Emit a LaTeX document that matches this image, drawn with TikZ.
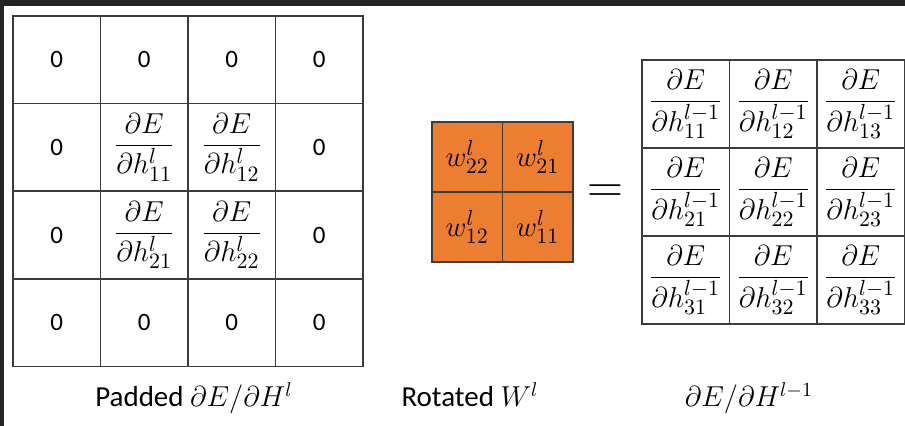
\documentclass[tikz,border=0pt]{standalone}
\usepackage{fontspec}
\setmainfont{Carlito}
\definecolor{gridline}{HTML}{3C3C3C}
\definecolor{wcolor}{HTML}{ED7D31}
\definecolor{framecol}{HTML}{242424}
\begin{document}
\begin{tikzpicture}[x=0.5pt,y=-0.5pt,
  cellbox/.style={draw=gridline,line width=0.8pt,minimum width=43.75pt,minimum height=43.8pt,inner sep=0pt,font=\fontsize{12.5}{14}\selectfont},
  fracbox/.style={cellbox,font=\fontsize{15}{17}\selectfont},
  wbox/.style={draw=gridline,line width=0.8pt,fill=wcolor,minimum width=35.25pt,minimum height=35pt,inner sep=0pt,font=\fontsize{15}{17}\selectfont},
  outbox/.style={draw=gridline,line width=0.8pt,minimum width=43.75pt,minimum height=44pt,inner sep=0pt,font=\fontsize{15}{17}\selectfont},
  caption/.style={anchor=base,inner sep=0pt,font=\fontsize{14.5}{16}\selectfont}]
\useasboundingbox (0,0) rectangle (905,426);
\fill[white] (0,0) rectangle (905,426);
\fill[framecol] (0,0) rectangle (905,6);
\fill[framecol] (0,0) rectangle (3.5,426);
% padded grid
\foreach \c in {0,...,3}{
  \node[cellbox] (p0\c) at ({13+87.5*(\c+0.5)},{16+87.6*0.5}) {0};
  \node[cellbox] (p3\c) at ({13+87.5*(\c+0.5)},{16+87.6*3.5}) {0};
}
\foreach \r in {1,2}{
  \node[cellbox] (p\r0) at ({13+87.5*0.5},{16+87.6*(\r+0.5)}) {0};
  \node[cellbox] (p\r3) at ({13+87.5*3.5},{16+87.6*(\r+0.5)}) {0};
  \foreach \c in {1,2}{
    \node[fracbox] (p\r\c) at ({13+87.5*(\c+0.5)},{16+87.6*(\r+0.5)}) {$\displaystyle\frac{\partial E}{\partial h^{l}_{\r\c}}$};
  }
}
% rotated kernel
\node[wbox] (w00) at ({432+70.5*0.5},{122+70*0.5}) {$w^{l}_{22}$};
\node[wbox] (w01) at ({432+70.5*1.5},{122+70*0.5}) {$w^{l}_{21}$};
\node[wbox] (w10) at ({432+70.5*0.5},{122+70*1.5}) {$w^{l}_{12}$};
\node[wbox] (w11) at ({432+70.5*1.5},{122+70*1.5}) {$w^{l}_{11}$};
% equals
\node[inner sep=0pt,font=\fontsize{23}{26}\selectfont] (eq) at (605,194) {$=$};
% output grid
\foreach \r in {1,2,3}{
  \foreach \c in {1,2,3}{
    \node[outbox] (o\r\c) at ({642+87.5*(\c-0.5)},{60+88*(\r-0.5)}) {$\displaystyle\frac{\partial E}{\partial h^{l-1}_{\r\c}}$};
  }
}
% captions
\node[caption] (cap1) at (194,407) {Padded $\partial E/\partial H^{l}$};
\node[caption] (cap2) at (470,407) {Rotated $W^{l}$};
\node[caption] (cap3) at (749,407) {$\partial E/\partial H^{l-1}$};
\end{tikzpicture}
\end{document}
